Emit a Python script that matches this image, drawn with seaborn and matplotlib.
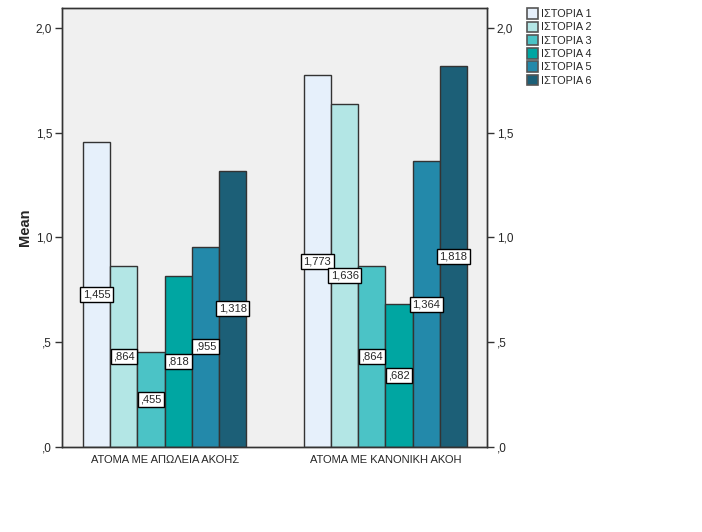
import matplotlib
matplotlib.use("Agg")
import matplotlib.pyplot as plt
import seaborn as sns
import pandas as pd
from matplotlib.patches import Patch

groups = ["ΑΤΟΜΑ ΜΕ ΑΠΩΛΕΙΑ ΑΚΟΗΣ", "ΑΤΟΜΑ ΜΕ ΚΑΝΟΝΙΚΗ ΑΚΟΗ"]
series = ["ΙΣΤΟΡΙΑ 1", "ΙΣΤΟΡΙΑ 2", "ΙΣΤΟΡΙΑ 3", "ΙΣΤΟΡΙΑ 4", "ΙΣΤΟΡΙΑ 5", "ΙΣΤΟΡΙΑ 6"]
vals_loss = [1.455, 0.864, 0.455, 0.818, 0.955, 1.318]
vals_normal = [1.773, 1.636, 0.864, 0.682, 1.364, 1.818]
colors = ["#E6F0FB", "#B3E6E5", "#4BC3C6", "#00A6A2", "#2389AA", "#1C5F77"]
yticks = [0.0, 0.5, 1.0, 1.5, 2.0]
ytick_labels = [",0", ",5", "1,0", "1,5", "2,0"]

rows = []
for g, vs in zip(groups, [vals_loss, vals_normal]):
    for s, v in zip(series, vs):
        rows.append({"group": g, "series": s, "value": v})
df = pd.DataFrame(rows)

sns.set_theme(style="white")
plt.rcParams["font.family"] = ["Liberation Sans", "DejaVu Sans"]

fig = plt.figure(figsize=(7.02, 5.32), dpi=100)
ax = fig.add_axes([62/702, (532-447)/532, (487-62)/702, (447-8)/532])
ax.set_facecolor("#F0F0F0")

sns.barplot(data=df, x="group", y="value", hue="series", palette=colors,
            width=0.74, edgecolor="#333333", linewidth=1.0, ax=ax,
            legend=False, saturation=1)

def fmt(v):
    s = f"{v:.3f}".replace(".", ",")
    if s.startswith("0"):
        s = s[1:]
    return s

for cont in ax.containers:
    labels = [fmt(b.get_height()) for b in cont]
    ax.bar_label(cont, labels=labels, label_type="center", fontsize=8,
                 bbox=dict(boxstyle="square,pad=0.22", facecolor="white",
                           edgecolor="black", linewidth=1.0))

ax.set_ylim(0, 2.095)
ax.set_xlim(-0.465, 1.46)
ax.set_yticks(yticks)
ax.set_yticklabels(ytick_labels, fontsize=8.5)
ax.set_xlabel("")
ax.set_ylabel("Mean", fontsize=10.5, fontweight="bold", labelpad=3)
ax.tick_params(axis="x", labelsize=8, direction="in", length=6, width=1, color="#333333", pad=6)
ax.tick_params(axis="y", direction="out", length=5, width=1, color="#333333", left=True, pad=2)
for sp in ax.spines.values():
    sp.set_color("#333333")
    sp.set_linewidth(1)

ax2 = ax.twinx()
ax2.set_ylim(ax.get_ylim())
ax2.set_yticks(yticks)
ax2.set_yticklabels(ytick_labels, fontsize=8.5)
ax2.tick_params(axis="y", direction="out", length=5, width=1, color="#333333", right=True, pad=2)
ax2.grid(False)
for sp in ax2.spines.values():
    sp.set_color("#333333")
    sp.set_linewidth(1)

handles = [Patch(facecolor=c, edgecolor="#555555", linewidth=1.2) for c in colors]
fig.legend(handles, series, loc="upper left", bbox_to_anchor=(523/702, 1 - 4/532),
           frameon=False, fontsize=7.8, handlelength=1.0, handleheight=1.1,
           handletextpad=0.25, labelspacing=0.22, borderaxespad=0)

fig.savefig("out.png", dpi=100)
